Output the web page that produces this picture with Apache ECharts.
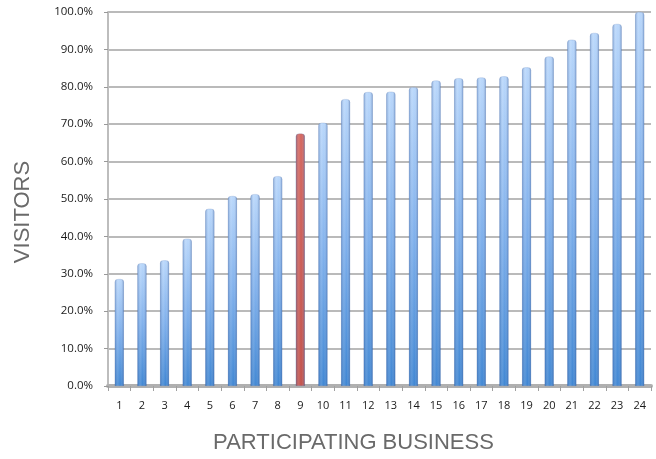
<!DOCTYPE html>
<html><head><meta charset="utf-8">
<script src="https://cdn.jsdelivr.net/npm/echarts@6/dist/echarts.min.js"></script>
<style>html,body{margin:0;padding:0;background:#fff}#c{width:656px;height:459px}</style>
</head><body><div id="c"></div>
<script>
const categories = ['1','2','3','4','5','6','7','8','9','10','11','12','13','14','15','16','17','18','19','20','21','22','23','24'];
const visitors = [28.6,32.8,33.6,39.4,47.4,50.8,51.3,56.1,67.5,70.4,76.7,78.6,78.7,79.9,81.7,82.3,82.5,82.8,85.2,88.1,92.6,94.4,96.8,100.0];
const highlightIndex = 8;
const yTicks = [0,10,20,30,40,50,60,70,80,90,100];

const blue = {type:'linear',x:0,y:0,x2:0,y2:1,colorStops:[{offset:0,color:'#b9d7fb'},{offset:0.5,color:'#7fb0ec'},{offset:1,color:'#3f86d3'}]};
const red = {type:'linear',x:0,y:0,x2:0,y2:1,colorStops:[{offset:0,color:'#d4655e'},{offset:1,color:'#c2504a'}]};
const shade = {type:'linear',x:0,y:0,x2:1,y2:0,colorStops:[{offset:0,color:'rgba(30,70,140,0.35)'},{offset:0.35,color:'rgba(255,255,255,0.12)'},{offset:0.6,color:'rgba(255,255,255,0.0)'},{offset:1,color:'rgba(30,70,140,0.4)'}]};

const chart = echarts.init(document.getElementById('c'));
chart.setOption({
  animation:false,
  backgroundColor:'#fff',
  grid:{left:108,right:5,top:12,bottom:70},
  xAxis:{
    type:'category',data:categories,
    axisLine:{lineStyle:{color:'#b0b0b0',width:4}},
    axisTick:{show:true,length:5,lineStyle:{color:'#a0a0a0'}},
    axisLabel:{color:'#1a1a1a',fontFamily:'Open Sans',fontSize:11,margin:14},
    name:'PARTICIPATING BUSINESS',nameLocation:'middle',nameGap:46,
    nameTextStyle:{color:'#6a6a6a',fontFamily:'Liberation Sans',fontSize:22,fontWeight:'lighter',padding:[0,52,0,0]}
  },
  yAxis:{
    type:'value',min:0,max:100,interval:10,
    axisLine:{show:true,lineStyle:{color:'#bdbdbd',width:2}},
    axisTick:{show:true,length:4,lineStyle:{color:'#999'}},
    splitLine:{lineStyle:{color:'#a3a3a3',width:1.5}},
    axisLabel:{color:'#1a1a1a',fontFamily:'Open Sans',fontSize:11.5,margin:15,formatter:v=>v.toFixed(1)+'%'},
    name:'VISITORS',nameLocation:'middle',nameGap:74,nameRotate:90,
    nameTextStyle:{color:'#6a6a6a',fontFamily:'Liberation Sans',fontSize:22,fontWeight:'lighter',padding:[0,26,0,0]}
  },
  series:[
    {type:'bar',barWidth:9,
     data:visitors.map((v,i)=>({value:v,itemStyle:{color:i===highlightIndex?red:blue,borderRadius:[3,3,0,0]}})),
     itemStyle:{borderColor:'rgba(60,100,170,0.35)',borderWidth:0.5}},
    {type:'bar',barWidth:9,barGap:'-100%',silent:true,
     data:visitors.map(v=>({value:v,itemStyle:{color:shade,borderRadius:[3,3,0,0]}}))}
  ]
});
</script></body></html>
